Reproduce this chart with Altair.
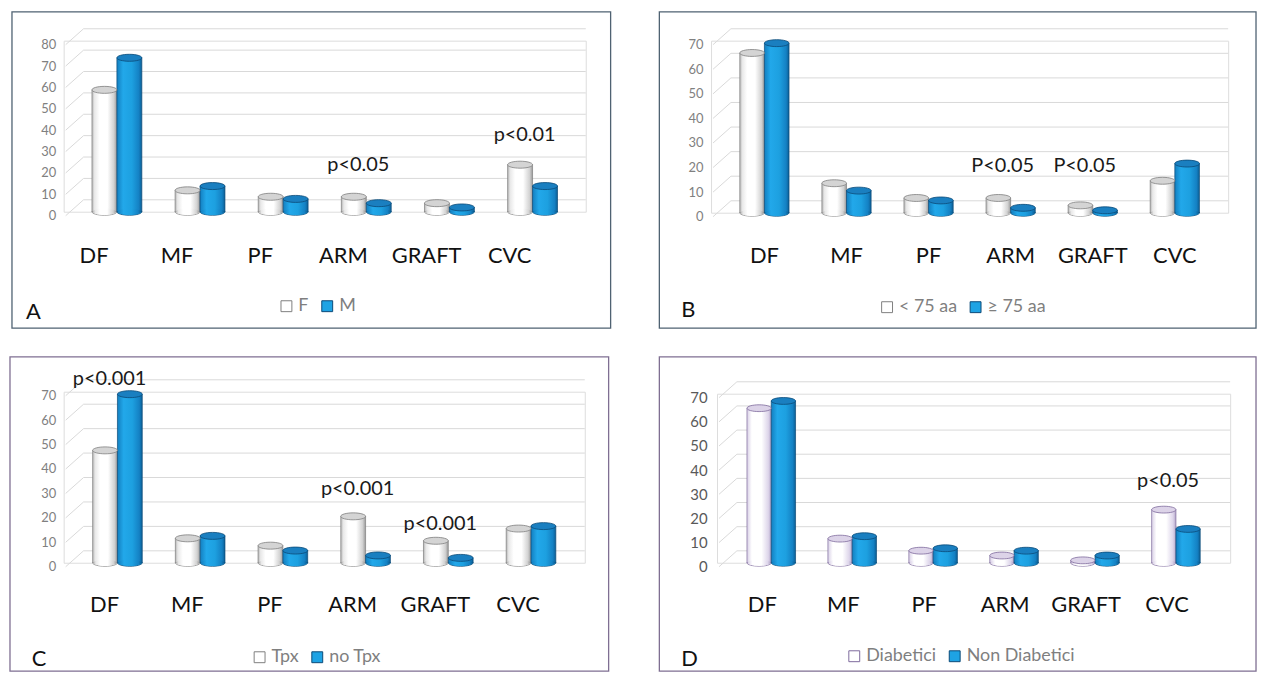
import altair as alt
import pandas as pd

categories = ["DF", "MF", "PF", "ARM", "GRAFT", "CVC"]

# Panel A
a_groups = ["F", "M"]
a_first = [57, 10, 7, 7, 4, 22]
a_second = [72, 12, 6, 4, 2, 12]
a_ticks = [0, 10, 20, 30, 40, 50, 60, 70, 80]
a_note_cats = ["ARM", "CVC"]
a_note_levels = [22, 36]
a_note_texts = ["p<0.05", "p<0.01"]

# Panel B
b_groups = ["< 75 aa", "≥ 75 aa"]
b_first = [65, 12, 6, 6, 3, 13]
b_second = [69, 9, 5, 2, 1, 20]
b_ticks = [0, 10, 20, 30, 40, 50, 60, 70]
b_note_cats = ["ARM", "GRAFT"]
b_note_levels = [19, 19]
b_note_texts = ["P<0.05", "P<0.05"]

# Panel C
c_groups = ["Tpx", "no Tpx"]
c_first = [46, 10, 7, 19, 9, 14]
c_second = [69, 11, 5, 3, 2, 15]
c_ticks = [0, 10, 20, 30, 40, 50, 60, 70]
c_note_cats = ["DF", "ARM", "GRAFT"]
c_note_levels = [75, 30, 16]
c_note_texts = ["p<0.001", "p<0.001", "p<0.001"]

# Panel D
d_groups = ["Diabetici", "Non Diabetici"]
d_first = [64, 10, 5, 3, 1, 22]
d_second = [67, 11, 6, 5, 3, 14]
d_ticks = [0, 10, 20, 30, 40, 50, 60, 70]
d_note_cats = ["CVC"]
d_note_levels = [34]
d_note_texts = ["p<0.05"]

FONT = "Lato"
ELL = "M-1,0A1,0.28,0,1,1,1,0A1,0.28,0,1,1,-1,0Z"
BLUE = "#1ea3e4"
BLUE_EDGE = "#0b4a78"
GRID = "#d9d9d9"


def grad(stops):
    return alt.Gradient(
        gradient="linear",
        stops=[alt.GradientStop(color=c, offset=o) for o, c in stops],
        x1=0, x2=1, y1=0, y2=0,
    )


BLUE_GRAD = grad([(0, "#137fc0"), (0.25, "#22a8ea"), (0.6, "#1da0e0"),
                  (0.88, "#1481c4"), (1, "#0c5f95")])


def panel(letter, groups, first, second, ticks, note_cats, note_levels, note_texts, g, s):
    rows = []
    for i, c in enumerate(categories):
        rows.append({"cat": c, "series": groups[0], "value": first[i]})
        rows.append({"cat": c, "series": groups[1], "value": second[i]})
    df = pd.DataFrame(rows)
    notes = pd.DataFrame({"cat": note_cats, "value": note_levels, "text": note_texts})
    grid_df = pd.DataFrame({"value": ticks})
    one = pd.DataFrame({"t": [letter]})

    W, H = g["w"], g["h"]
    pi, po = 0.4, g["po"]
    step = W / (len(categories) - pi + 2 * po)
    bw = step * (1 - pi) / 2
    size = bw * bw

    xaxis = alt.Axis(title=None, labelAngle=0, labelFont=FONT, labelFontSize=22,
                     labelColor="#111111", domain=False, ticks=False, tickSize=0,
                     labelPadding=g["xpad"], labelOffset=g["xoff"], grid=False, zindex=2)
    xenc = alt.X("cat:N", sort=categories,
                 scale=alt.Scale(domain=categories, paddingInner=pi, paddingOuter=po),
                 axis=xaxis)
    xoff = alt.XOffset("series:N", scale=alt.Scale(domain=groups), sort=groups)
    yscale = alt.Scale(domain=[0, ticks[-1]], nice=False, zero=True)
    yaxis = alt.Axis(title=None, values=ticks, grid=False, domain=False, ticks=False,
                     tickSize=0, labelFont=FONT, labelFontSize=s["ylab_size"],
                     labelColor=s["ylab_color"], labelPadding=g["ypad"], labelOffset=4,
                     zindex=2)
    yenc = alt.Y("value:Q", scale=yscale, axis=yaxis)
    yzero = alt.YDatum(0, type="quantitative", scale=yscale, axis=yaxis, title=None)

    border = alt.Chart(pd.DataFrame({"t": [0]})).mark_rect(
        filled=False, stroke=s["border"], strokeWidth=1.3
    ).encode(x=alt.value(-g["ox"]), x2=alt.value(g["bw"] - g["ox"]),
             y=alt.value(-g["oy"]), y2=alt.value(g["bh"] - g["oy"]))

    back = alt.Chart(grid_df).mark_rule(color=GRID, strokeWidth=1, yOffset=-12, y2Offset=-12).encode(
        y=yenc, y2=alt.Y2("value"), x=alt.value(20), x2=alt.value(W))
    slant = alt.Chart(grid_df).mark_rule(color=GRID, strokeWidth=1, yOffset=4, y2Offset=-12).encode(
        y=yenc, y2=alt.Y2("value"), x=alt.value(2), x2=alt.value(20))

    edge_scale = alt.Scale(domain=groups, range=[s["w_stroke"], BLUE_EDGE])

    bottoms = alt.Chart(df).mark_point(shape=ELL, size=size, filled=True, opacity=1,
                                       strokeWidth=0.8).encode(
        x=xenc, xOffset=xoff, y=yzero,
        color=alt.Color("series:N", sort=groups,
                        scale=alt.Scale(domain=groups, range=["#ffffff", BLUE]),
                        legend=alt.Legend(orient="none", legendX=g["legx"], legendY=g["legy"],
                                          direction="horizontal", title=None,
                                          symbolType="square", symbolSize=120,
                                          symbolStrokeColor=s["legend_stroke"],
                                          symbolStrokeWidth=1, labelFont=FONT,
                                          labelFontSize=18, labelColor="#7f7f7f",
                                          columnPadding=9, labelOffset=3)),
        stroke=alt.Stroke("series:N", scale=edge_scale, legend=None),
    )

    layers = [border, back, slant, bottoms]
    fills = [s["w_grad"], BLUE_GRAD]
    edges = [s["w_stroke"], BLUE_EDGE]
    for k in range(2):
        sub = alt.Chart(df).transform_filter(alt.datum.series == groups[k])
        layers.append(sub.mark_bar(fill=fills[k], stroke=edges[k], strokeWidth=0.7).encode(
            x=xenc, xOffset=xoff, y=yenc))
        layers.append(sub.mark_point(shape=ELL, size=size * 0.86, filled=True, opacity=1,
                                     fill=fills[k], strokeWidth=0).encode(
            x=xenc, xOffset=xoff, y=yzero))

    tops = alt.Chart(df).mark_point(shape=ELL, size=size, filled=True, opacity=1,
                                    strokeWidth=0.8).encode(
        x=xenc, xOffset=xoff, y=yenc,
        fill=alt.Fill("series:N", scale=alt.Scale(domain=groups,
                                                   range=[s["w_top"], "#1a7fc0"]), legend=None),
        stroke=alt.Stroke("series:N", scale=edge_scale, legend=None),
    )

    note_layer = alt.Chart(notes).mark_text(font=FONT, fontSize=20, color="#1a1a1a",
                                            dx=-8, baseline="middle").encode(
        x=xenc, y=yenc, text="text:N")

    letter_layer = alt.Chart(one).mark_text(font=FONT, fontSize=22, align="left",
                                            baseline="middle", color="#111111").encode(
        x=alt.value(g["letx"]), y=alt.value(g["lety"]), text="t:N")

    layers += [tops, note_layer, letter_layer]
    return alt.layer(*layers).properties(width=W, height=H)


white_grad = grad([(0, "#b4b4b4"), (0.1, "#e8e8e8"), (0.3, "#ffffff"), (0.62, "#ffffff"),
                   (0.88, "#d2d2d2"), (1, "#9a9a9a")])
lav_grad = grad([(0, "#d8cfe6"), (0.2, "#ffffff"), (0.6, "#ffffff"), (0.88, "#ddd5ea"),
                 (1, "#b3a6c9")])

style_ab = dict(border="#4f6272", ylab_size=13, ylab_color="#808080", legend_stroke="#404040",
                w_stroke="#7f7f7f", w_top="#d4d4d4", w_grad=white_grad)
style_c = dict(border="#7f6f92", ylab_size=13, ylab_color="#808080", legend_stroke="#404040",
               w_stroke="#7f7f7f", w_top="#d4d4d4", w_grad=white_grad)
style_d = dict(border="#7f6f92", ylab_size=15, ylab_color="#595959", legend_stroke="#7e6a9c",
               w_stroke="#7e6a9c", w_top="#dcd3e8", w_grad=lav_grad)

geo_a = dict(bw=602, bh=318, w=525, h=172, po=0.34, ox=52, oy=29, xpad=34, xoff=-23, ypad=8,
             legx=215, legy=258, letx=-38, lety=273)
geo_b = dict(bw=600, bh=318, w=520, h=173, po=0.35, ox=52, oy=29, xpad=33, xoff=0, ypad=8,
             legx=168, legy=259, letx=-30, lety=271)
geo_c = dict(bw=602, bh=316, w=524, h=172, po=0.35, ox=54, oy=35, xpad=32, xoff=-13, ypad=8,
             legx=188, legy=258, letx=-32, lety=269)
geo_d = dict(bw=600, bh=316, w=516, h=170, po=0.37, ox=58, oy=37, xpad=32, xoff=-9, ypad=10,
             legx=129, legy=255, letx=-36, lety=267)

pA = panel("A", a_groups, a_first, a_second, a_ticks, a_note_cats, a_note_levels, a_note_texts,
           geo_a, style_ab)
pB = panel("B", b_groups, b_first, b_second, b_ticks, b_note_cats, b_note_levels, b_note_texts,
           geo_b, style_ab)
pC = panel("C", c_groups, c_first, c_second, c_ticks, c_note_cats, c_note_levels, c_note_texts,
           geo_c, style_c)
pD = panel("D", d_groups, d_first, d_second, d_ticks, d_note_cats, d_note_levels, d_note_texts,
           geo_d, style_d)

chart = alt.concat(pA, pB, pC, pD, columns=2, align="none",
                   spacing={"column": 45, "row": 25}).resolve_scale(
    color="independent", fill="independent", stroke="independent", x="independent",
    y="independent", xOffset="independent"
).properties(padding={"top": 0, "left": 0, "right": 0, "bottom": 0}
             ).configure_view(stroke=None).configure(font=FONT)

chart.save("out.html", embed_options={"renderer": "svg", "actions": False})
